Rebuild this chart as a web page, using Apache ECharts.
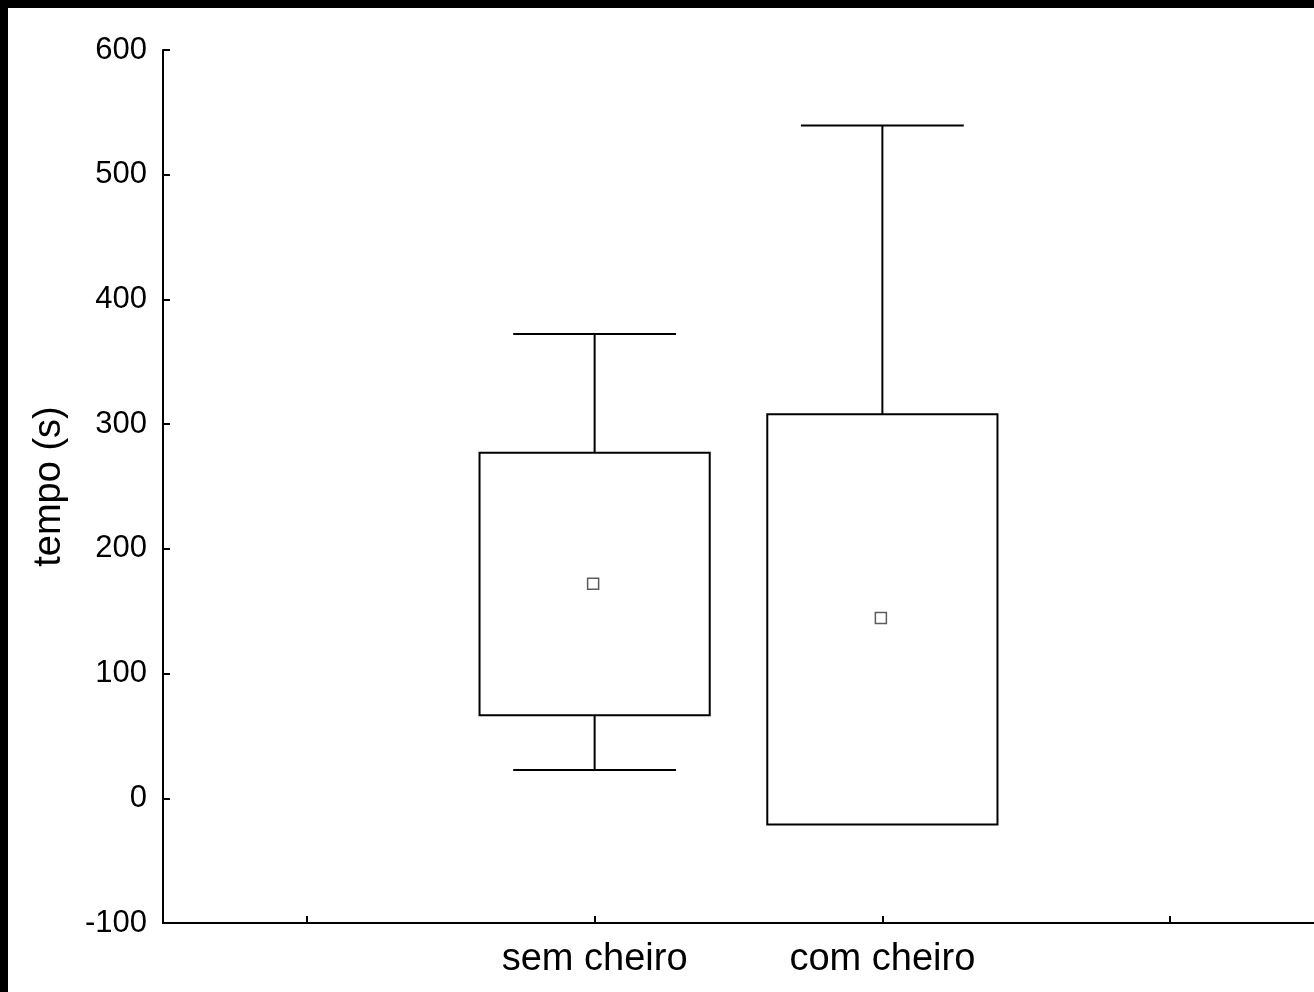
<!DOCTYPE html>
<html>
<head>
<meta charset="utf-8">
<script src="https://cdn.jsdelivr.net/npm/echarts@6/dist/echarts.min.js"></script>
<style>
html,body{margin:0;padding:0;background:#000;width:1314px;height:992px;overflow:hidden;}
#c{position:absolute;left:8px;top:8px;width:1306px;height:984px;background:#fff;}
</style>
</head>
<body>
<div id="c"></div>
<script>
const categories = ['', 'sem cheiro', 'com cheiro', ''];
const groups = ['sem cheiro', 'com cheiro'];
const means = [172, 144.6];
const boxLow = [66.5, -21];
const boxHigh = [277, 308];
const whiskerLow = [22.7, null];
const whiskerHigh = [372.3, 539.5];
const yTicks = { min: -100, max: 600, interval: 100 };
const yName = 'tempo (s)';

const chart = echarts.init(document.getElementById('c'), null, {renderer: 'canvas'});

const boxData = groups.map((g, i) => [g, boxLow[i], boxHigh[i], whiskerLow[i], whiskerHigh[i]]);
const meanData = groups.map((g, i) => [g, means[i]]);

const lineStyle = {stroke: '#000', lineWidth: 2, fill: null};

function renderBox(params, api) {
  const cat = api.value(0);
  const lo = api.coord([cat, api.value(1)]);
  const hi = api.coord([cat, api.value(2)]);
  const band = api.size([1, 0])[0];
  const bw = band * 0.8;
  const cw = band * 0.566;
  const x = lo[0];
  const children = [];
  children.push({type: 'rect', shape: {x: x - bw / 2, y: hi[1], width: bw, height: lo[1] - hi[1]}, style: Object.assign({}, lineStyle, {fill: 'rgba(0,0,0,0)'})});
  const wl = api.value(3);
  const wh = api.value(4);
  if (wh != null && !isNaN(wh)) {
    const p = api.coord([cat, wh]);
    children.push({type: 'line', shape: {x1: x, y1: hi[1], x2: x, y2: p[1]}, style: lineStyle});
    children.push({type: 'line', shape: {x1: x - cw / 2, y1: p[1], x2: x + cw / 2, y2: p[1]}, style: lineStyle});
  }
  if (wl != null && !isNaN(wl)) {
    const p = api.coord([cat, wl]);
    children.push({type: 'line', shape: {x1: x, y1: lo[1], x2: x, y2: p[1]}, style: lineStyle});
    children.push({type: 'line', shape: {x1: x - cw / 2, y1: p[1], x2: x + cw / 2, y2: p[1]}, style: lineStyle});
  }
  return {type: 'group', children: children};
}

const font = "'Liberation Sans', Arial, sans-serif";

chart.setOption({
  animation: false,
  backgroundColor: '#fff',
  grid: {left: 155, right: 0, top: 42, bottom: 69},
  xAxis: {
    type: 'category',
    data: categories,
    boundaryGap: true,
    axisLine: {onZero: false, lineStyle: {color: '#000', width: 2}},
    axisTick: {show: true, alignWithLabel: true, inside: true, length: 7, interval: 0, lineStyle: {color: '#000', width: 2}},
    axisLabel: {interval: 0, color: '#000', fontSize: 38, fontFamily: font, margin: 18},
    splitLine: {show: false}
  },
  yAxis: {
    type: 'value',
    min: yTicks.min, max: yTicks.max, interval: yTicks.interval,
    name: yName,
    nameLocation: 'middle',
    nameRotate: 90,
    nameGap: 94,
    nameTextStyle: {color: '#000', fontSize: 38, fontFamily: font},
    axisLine: {show: true, onZero: false, lineStyle: {color: '#000', width: 2}},
    axisTick: {show: true, inside: true, length: 7, lineStyle: {color: '#000', width: 2}},
    axisLabel: {color: '#000', fontSize: 31, fontFamily: font, margin: 16},
    splitLine: {show: false}
  },
  series: [
    {
      type: 'custom',
      renderItem: renderBox,
      data: boxData,
      encode: {x: 0, y: [1, 2, 3, 4]},
      clip: false,
      z: 2
    },
    {
      type: 'scatter',
      data: meanData,
      symbol: 'rect',
      symbolSize: 11,
      symbolOffset: [-1.5, 0],
      itemStyle: {color: '#fff', borderColor: '#333', borderWidth: 1.5},
      z: 3
    }
  ]
});
</script>
</body>
</html>
